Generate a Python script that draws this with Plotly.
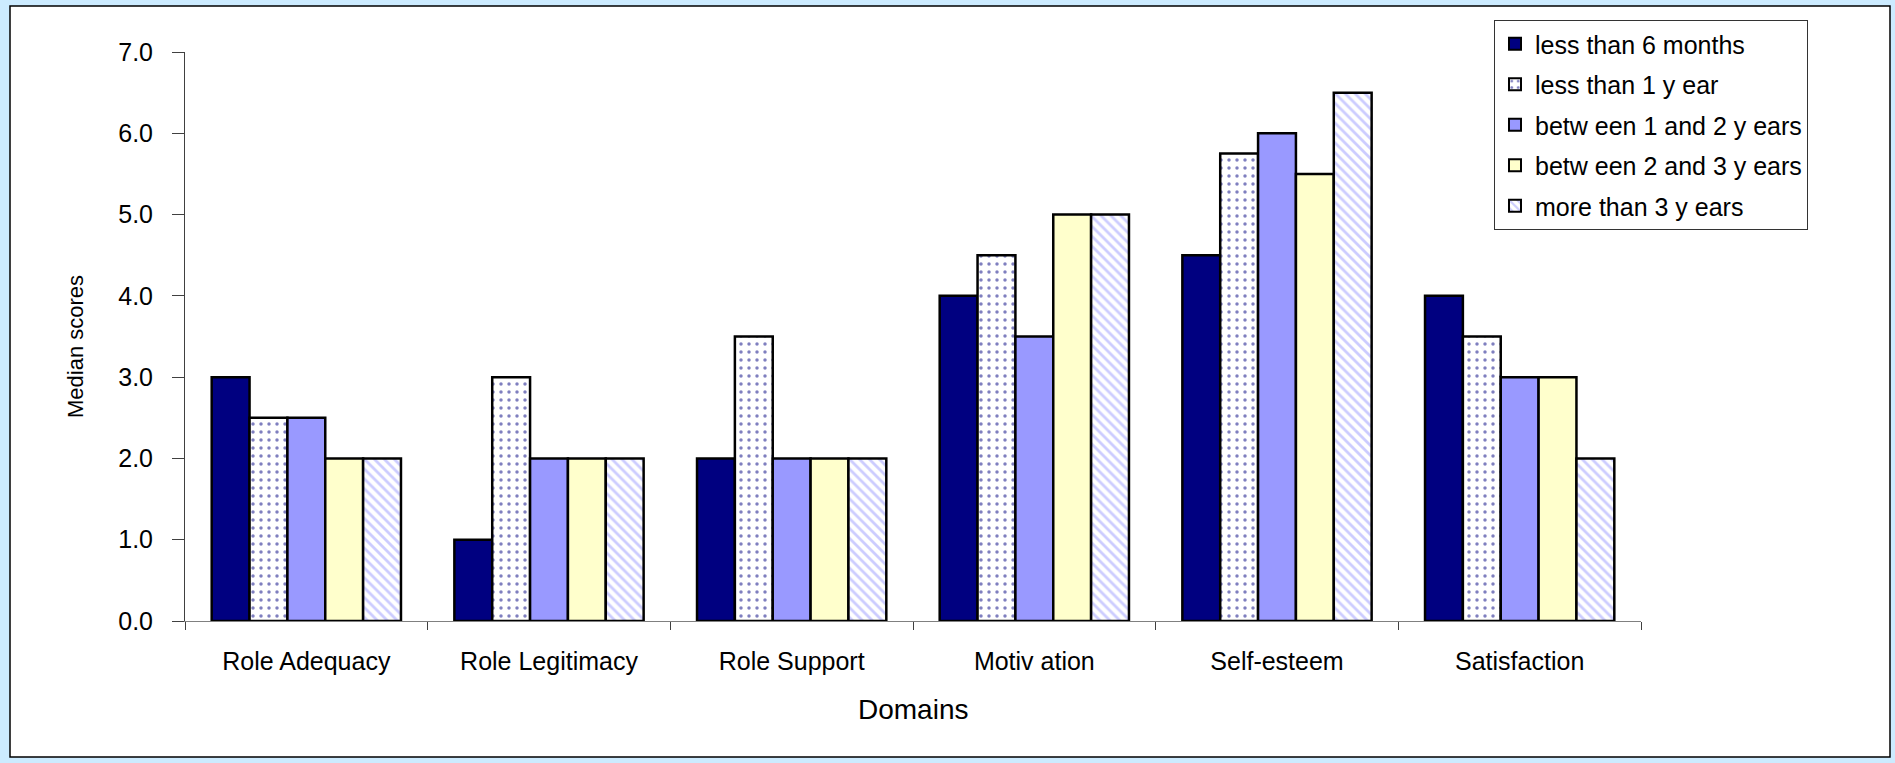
import plotly.graph_objects as go

# Median scores per domain, grouped by length of involvement
domains = ["Role Adequacy", "Role Legitimacy", "Role Support", "Motiv ation", "Self-esteem", "Satisfaction"]
series_names = [
    "less than 6 months",
    "less than 1 y ear",
    "betw een 1 and 2 y ears",
    "betw een 2 and 3 y ears",
    "more than 3 y ears",
]
less_6_months = [3.0, 1.0, 2.0, 4.0, 4.5, 4.0]
less_1_year = [2.5, 3.0, 3.5, 4.5, 5.75, 3.5]
between_1_2_years = [2.5, 2.0, 2.0, 3.5, 6.0, 3.0]
between_2_3_years = [2.0, 2.0, 2.0, 5.0, 5.5, 3.0]
more_3_years = [2.0, 2.0, 2.0, 5.0, 6.5, 2.0]
y_ticks = [0, 1, 2, 3, 4, 5, 6, 7]

values = [less_6_months, less_1_year, between_1_2_years, between_2_3_years, more_3_years]

# Fill styles: solid navy, navy dots, solid periwinkle, solid pale yellow, periwinkle hatch
styles = [
    dict(color="#000080"),
    dict(color="#FFFFFF", pattern=dict(shape=".", fgcolor="#000080", bgcolor="#FFFFFF", size=8, solidity=0.15)),
    dict(color="#9999FF"),
    dict(color="#FFFFCC"),
    dict(color="#FFFFFF", pattern=dict(shape="\\", fgcolor="#9999FF", bgcolor="#FFFFFF", size=7, solidity=0.4)),
]

W, H = 1895, 763
L, R, T, B = 185, 1641, 52, 621  # plot area in pixels

FONT = "Liberation Sans, Arial, sans-serif"

fig = go.Figure()
for name, vals, st in zip(series_names, values, styles):
    marker = dict(line=dict(color="#000000", width=2.5))
    marker.update(st)
    fig.add_trace(go.Bar(name=name, x=domains, y=vals, marker=marker, legendgroup=name))


def px_x(p):
    return (p - L) / (R - L)


def px_y(p):
    return (B - p) / (B - T)


# White chart panel with a black frame on the light blue page
fig.add_shape(
    type="rect", xref="paper", yref="paper", layer="below",
    x0=px_x(10), x1=px_x(1890), y0=px_y(757), y1=px_y(6),
    fillcolor="#FFFFFF", line=dict(color="#000000", width=1.5),
)

fig.add_annotation(
    text="Domains", xref="paper", yref="paper", x=0.5, y=px_y(709),
    showarrow=False, font=dict(family=FONT, size=28, color="#000000"),
    xanchor="center", yanchor="middle",
)
fig.add_annotation(
    text="Median scores", xref="paper", yref="paper", x=px_x(76), y=px_y(347),
    showarrow=False, textangle=-90,
    font=dict(family="Liberation Sans Narrow, Arial Narrow, sans-serif", size=22, color="#000000"),
    xanchor="center", yanchor="middle",
)

fig.update_layout(
    width=W, height=H,
    margin=dict(l=L, r=W - R, t=T, b=H - B, pad=0),
    paper_bgcolor="#CCEBFF",
    plot_bgcolor="rgba(0,0,0,0)",
    barmode="group",
    bargap=0.22,
    bargroupgap=0,
    font=dict(family=FONT, color="#000000"),
    showlegend=True,
    legend=dict(
        x=px_x(1494), y=px_y(20), xanchor="left", yanchor="top",
        bgcolor="#FFFFFF", bordercolor="#333333", borderwidth=1,
        font=dict(family=FONT, size=25, color="#000000"),
        traceorder="grouped", tracegroupgap=5,
        itemsizing="constant",
    ),
    xaxis=dict(
        type="category", showgrid=False,
        showline=True, linecolor="#808080", linewidth=1,
        ticks="outside", tickson="boundaries", ticklen=8, tickcolor="#404040",
        tickfont=dict(family=FONT, size=25, color="#000000"),
        ticklabelstandoff=18,
    ),
    yaxis=dict(
        range=[0, 7], tickvals=y_ticks, tickformat=".1f",
        showgrid=False, zeroline=False,
        showline=True, linecolor="#404040", linewidth=1,
        ticks="outside", ticklen=12, tickcolor="#404040",
        tickfont=dict(family=FONT, size=25, color="#000000"),
        ticklabelstandoff=14,
    ),
)

fig.write_html("out.html")
